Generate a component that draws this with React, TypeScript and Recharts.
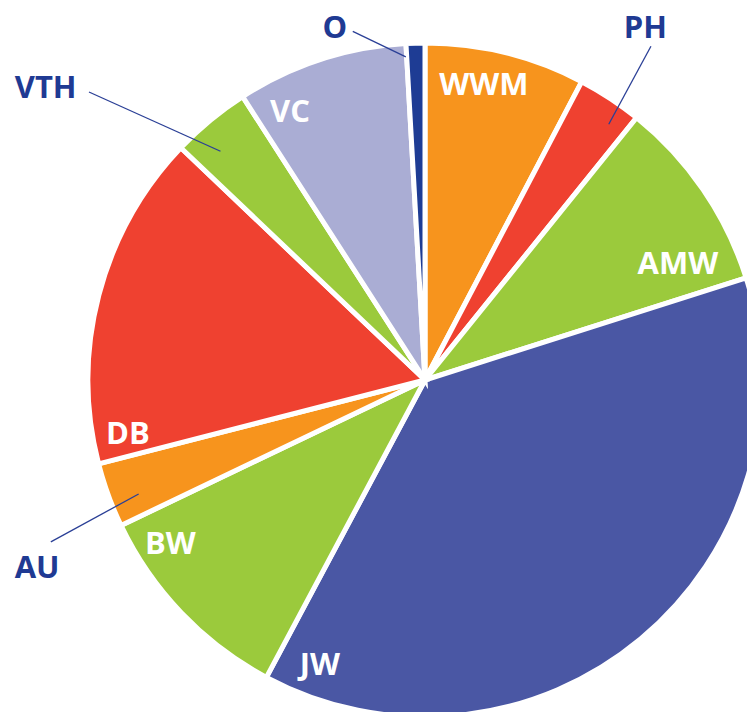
import React from "react";
import { PieChart, Pie, Cell } from "recharts";

const categories = ["WWM", "PH", "AMW", "JW", "BW", "AU", "DB", "VTH", "VC", "O"];
const shares = [7.7, 3.1, 9.3, 37.7, 10.1, 3.1, 16.1, 3.8, 8.2, 0.9];
const sliceColors = ["#F7941D", "#EF4130", "#9BCA3C", "#4A57A4", "#9BCA3C", "#F7941D", "#EF4130", "#9BCA3C", "#AAADD4", "#1E3C94"];

const data = categories.map((name, i) => ({ name, value: shares[i] }));

// label layout: clock angle (deg, clockwise from top) and radius as fraction of outer radius
type Inside = { kind: "in"; a: number; r: number };
type Outside = { kind: "out"; la: number; lr: number; sa: number; sr: number; ea: number; er: number };
const labelLayout: Record<string, Inside | Outside> = {
  WWM: { kind: "in", a: 11.2, r: 0.905 },
  PH: { kind: "out", la: 31.9, lr: 1.245, sa: 34.1, sr: 1.203, ea: 35.7, er: 0.94 },
  AMW: { kind: "in", a: 65, r: 0.833 },
  JW: { kind: "in", a: 200.4, r: 0.9 },
  BW: { kind: "in", a: 237.6, r: 0.9 },
  AU: { kind: "out", la: 244.4, lr: 1.284, sa: 246.6, sr: 1.217, ea: 248.3, er: 0.92 },
  DB: { kind: "in", a: 260.1, r: 0.9 },
  VTH: { kind: "out", la: 307.8, lr: 1.433, sa: 310.6, sr: 1.321, ea: 318.2, er: 0.916 },
  VC: { kind: "in", a: 333.4, r: 0.9 },
  O: { kind: "out", la: 345.7, lr: 1.09, sa: 348.3, sr: 1.063, ea: 356.6, er: 0.966 },
};

const R = 335;
const FONT = "'Open Sans', 'DejaVu Sans', sans-serif";
const FS = 31;

function pt(cx: number, cy: number, a: number, r: number) {
  const rad = (a * Math.PI) / 180;
  return { x: cx + r * Math.sin(rad), y: cy - r * Math.cos(rad) };
}

const renderLabel = (props: any) => {
  const { cx, cy, index } = props;
  const name = categories[index];
  const L = labelLayout[name];
  if (!L) return null;
  if (L.kind === "in") {
    const p = pt(cx, cy, L.a, L.r * R);
    return (
      <text x={p.x} y={p.y} fill="#FFFFFF" textAnchor="middle" dominantBaseline="central"
        style={{ fontFamily: FONT, fontWeight: 700, fontSize: FS }}>
        {name}
      </text>
    );
  }
  const lp = pt(cx, cy, L.la, L.lr * R);
  const s = pt(cx, cy, L.sa, L.sr * R);
  const e = pt(cx, cy, L.ea, L.er * R);
  return (
    <g>
      <line x1={s.x} y1={s.y} x2={e.x} y2={e.y} stroke="#2A3F96" strokeWidth={1.3} />
      <text x={lp.x} y={lp.y} fill="#1F3A93" textAnchor="middle" dominantBaseline="central"
        style={{ fontFamily: FONT, fontWeight: 700, fontSize: FS }}>
        {name}
      </text>
    </g>
  );
};

export default function App() {
  return (
    <div style={{ position: "absolute", left: 0, top: 0, width: 747, height: 712, background: "#fff" }}>
      <PieChart width={747} height={712} margin={{ top: 0, right: 0, bottom: 0, left: 0 }}>
        <Pie
          data={data}
          dataKey="value"
          nameKey="name"
          cx={425}
          cy={380}
          outerRadius={R + 2}
          startAngle={90}
          endAngle={-270}
          stroke="#FFFFFF"
          strokeWidth={5}
          label={renderLabel}
          labelLine={false}
          isAnimationActive={false}
        >
          {data.map((d, i) => (
            <Cell key={d.name} fill={sliceColors[i]} />
          ))}
        </Pie>
      </PieChart>
    </div>
  );
}
